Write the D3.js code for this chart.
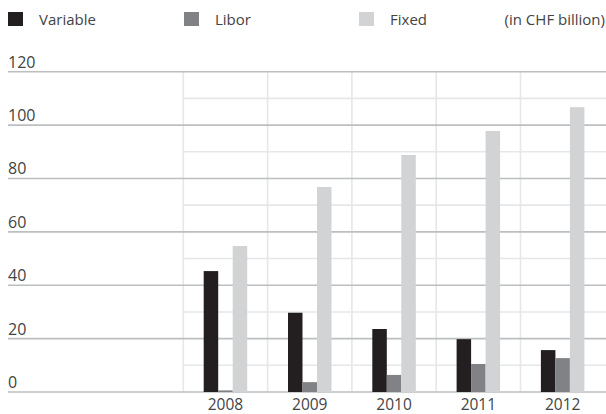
<!DOCTYPE html>
<html>
<head>
<meta charset="utf-8">
<script src="https://cdn.jsdelivr.net/npm/d3@7"></script>
<style>
  html, body { margin: 0; padding: 0; background: #fff; }
  svg { display: block; font-family: "Open Sans", "Noto Sans", sans-serif; }
</style>
</head>
<body>
<svg id="chart" width="606" height="414"></svg>
<script>
// Interest rate structure by year (in CHF billion)
const years = ["2008", "2009", "2010", "2011", "2012"];
const seriesNames = ["Variable", "Libor", "Fixed"];
const variableValues = [45.3, 29.7, 23.6, 19.8, 15.7];
const liborValues = [0.6, 3.7, 6.4, 10.5, 12.7];
const fixedValues = [54.7, 76.8, 88.8, 97.8, 106.7];
const yTicks = [0, 20, 40, 60, 80, 100, 120];
const yMinorTicks = [10, 30, 50, 70, 90, 110];
const unitLabel = "(in CHF billion)";

const seriesValues = [variableValues, liborValues, fixedValues];
const colors = ["#231f20", "#808285", "#d1d3d4"];

const svg = d3.select("#chart");
const W = 606;
const textColor = "#444";

const y = d3.scaleLinear().domain([0, 120]).range([392, 71.7]);
const x0 = d3.scaleBand().domain(years).range([183.3, 604.8]).paddingInner(0).paddingOuter(0);
const groupW = 43.5;
const x1 = d3.scaleBand().domain(seriesNames)
  .range([(x0.bandwidth() - groupW) / 2, (x0.bandwidth() + groupW) / 2]).padding(0);

// Minor horizontal grid (plot area only)
svg.append("g").selectAll("line").data(yMinorTicks).join("line")
  .attr("x1", 183.3).attr("x2", W)
  .attr("y1", d => y(d)).attr("y2", d => y(d))
  .attr("stroke", "#e6e7e8").attr("stroke-width", 1.6);

// Vertical separators between years
svg.append("g").selectAll("line").data(years).join("line")
  .attr("x1", d => x0(d)).attr("x2", d => x0(d))
  .attr("y1", y(120)).attr("y2", y(0))
  .attr("stroke", "#e6e7e8").attr("stroke-width", 1.6);

// Major horizontal grid with labels sitting above each line
const major = svg.append("g");
major.selectAll("line").data(yTicks).join("line")
  .attr("x1", 8).attr("x2", W)
  .attr("y1", d => y(d)).attr("y2", d => y(d))
  .attr("stroke", "#bcbec0").attr("stroke-width", 1.6);
major.selectAll("text").data(yTicks).join("text")
  .attr("x", 8).attr("y", d => y(d) - 4)
  .attr("fill", textColor).attr("font-size", 16)
  .text(d => d);

// Bars
const groups = svg.append("g").selectAll("g").data(years).join("g")
  .attr("transform", d => `translate(${x0(d)},0)`);
groups.selectAll("rect")
  .data((d, i) => seriesNames.map((s, k) => ({ s, k, v: seriesValues[k][i] })))
  .join("rect")
  .attr("x", d => x1(d.s))
  .attr("width", x1.bandwidth())
  .attr("y", d => y(d.v))
  .attr("height", d => y(0) - y(d.v))
  .attr("fill", d => colors[d.k]);

// Year labels (baseline kept just above the bottom edge)
const xAxis = d3.axisBottom(x0).tickSize(0).tickPadding(0);
const xg = svg.append("g").attr("transform", "translate(0,409.5)").call(xAxis);
xg.select(".domain").remove();
xg.selectAll("text")
  .attr("font-size", 15.5).attr("fill", textColor)
  .attr("font-family", "\"Open Sans\", \"Noto Sans\", sans-serif")
  .attr("dy", 0);

// Legend
const legendX = [8, 184, 359];
const legend = svg.append("g").selectAll("g").data(seriesNames).join("g")
  .attr("transform", (d, i) => `translate(${legendX[i]},12)`);
legend.append("rect").attr("width", 15).attr("height", 14)
  .attr("fill", (d, i) => colors[i]);
legend.append("text").attr("x", 31).attr("y", 12.5)
  .attr("font-size", 15).attr("fill", textColor).text(d => d);

svg.append("text").attr("x", 605).attr("y", 24.5).attr("text-anchor", "end")
  .attr("font-size", 15).attr("fill", textColor).text(unitLabel);
</script>
</body>
</html>
